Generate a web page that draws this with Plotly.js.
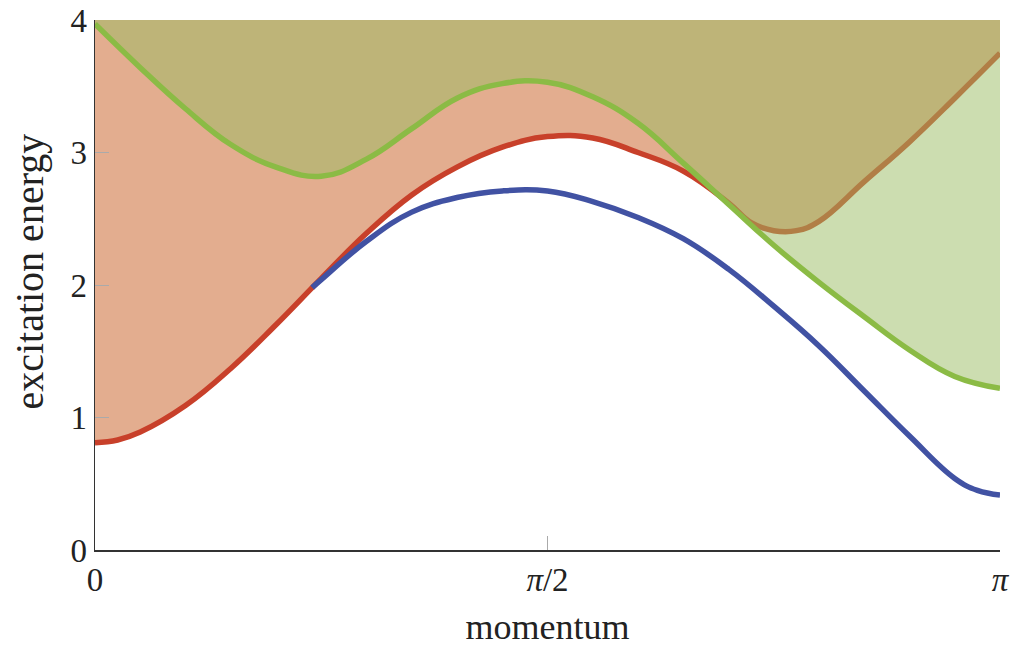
<!DOCTYPE html>
<html>
<head>
<meta charset="utf-8">
<script src="https://cdn.plot.ly/plotly-3.0.1.min.js"></script>
<style>html,body{margin:0;padding:0;background:#fff;}#chart{width:1015px;height:647px;}</style>
</head>
<body>
<div id="chart"></div>
<script>
// momentum in units of pi
const redX   = [0, 0.025, 0.05, 0.1, 0.15, 0.2, 0.25, 0.3, 0.35, 0.4, 0.45, 0.5, 0.55, 0.6, 0.65, 0.7, 0.725, 0.75, 0.775, 0.8, 0.85, 0.9, 0.95, 1.0];
const redY   = [0.81, 0.83, 0.89, 1.09, 1.37, 1.70, 2.05, 2.39, 2.68, 2.89, 3.04, 3.12, 3.11, 3.00, 2.86, 2.62, 2.47, 2.41, 2.41, 2.48, 2.78, 3.08, 3.41, 3.75];
const greenX = [0, 0.05, 0.1, 0.15, 0.2, 0.25, 0.3, 0.35, 0.4, 0.45, 0.5, 0.55, 0.6, 0.65, 0.7, 0.75, 0.8, 0.85, 0.9, 0.95, 1.0];
const greenY = [3.97, 3.64, 3.33, 3.06, 2.89, 2.82, 2.95, 3.18, 3.41, 3.52, 3.53, 3.42, 3.22, 2.92, 2.61, 2.30, 2.02, 1.76, 1.51, 1.31, 1.22];
const blueX  = [0.24, 0.25, 0.3, 0.35, 0.4, 0.45, 0.5, 0.55, 0.6, 0.65, 0.7, 0.75, 0.8, 0.85, 0.9, 0.95, 0.975, 1.0];
const blueY  = [1.98, 2.04, 2.33, 2.55, 2.66, 2.71, 2.71, 2.63, 2.51, 2.35, 2.12, 1.84, 1.54, 1.20, 0.86, 0.54, 0.45, 0.415];
const topX = [0, 1];
const topY = [4, 4];
const xTickVals = [0, 0.5, 1];
const xTickText = ['0', '<i>π</i>/2', '<i>π</i>'];
const yTickVals = [0, 1, 2, 3, 4];
const xTitle = 'momentum';
const yTitle = 'excitation energy';

const FONT = 'Liberation Serif, DejaVu Serif, serif';
const lw = 5.5;
const sm = 1.2;

const traces = [
  {x: topX, y: topY, mode: 'lines', line: {width: 0}, hoverinfo: 'skip'},
  {
    x: redX, y: redY, mode: 'lines', fill: 'tonexty', fillcolor: '#E3AD8F',
    line: {color: '#C8402A', width: lw, shape: 'spline', smoothing: sm}
  },
  {
    x: blueX, y: blueY, mode: 'lines',
    line: {color: '#4152A3', width: lw, shape: 'spline', smoothing: sm}
  },
  {x: topX, y: topY, mode: 'lines', line: {width: 0}, hoverinfo: 'skip'},
  {
    x: greenX, y: greenY, mode: 'lines', fill: 'tonexty', fillcolor: 'rgba(153,187,97,0.5)',
    line: {color: '#8BBB45', width: lw, shape: 'spline', smoothing: sm}
  }
];

const layout = {
  width: 1015, height: 647,
  margin: {l: 95, r: 15, t: 20, b: 97},
  paper_bgcolor: '#fff', plot_bgcolor: '#fff',
  showlegend: false,
  font: {family: FONT, size: 33, color: '#222'},
  xaxis: {
    range: [0, 1], tickvals: xTickVals, ticktext: xTickText,
    showgrid: false, zeroline: false,
    showline: true, linecolor: '#333', linewidth: 1.5, mirror: false,
    ticks: 'inside', ticklen: 14, tickcolor: '#aaa', tickwidth: 1,
    tickfont: {family: FONT, size: 33, color: '#222'},
    title: {text: xTitle, font: {family: FONT, size: 36, color: '#222'}, standoff: 23}
  },
  yaxis: {
    range: [0, 4], tickvals: yTickVals,
    showgrid: false, zeroline: false,
    showline: true, linecolor: '#333', linewidth: 1.5, mirror: false,
    ticks: 'inside', ticklen: 14, tickcolor: '#aaa', tickwidth: 1,
    tickfont: {family: FONT, size: 33, color: '#222'}
  },
  annotations: [{
    text: yTitle, textangle: -90, showarrow: false,
    xref: 'paper', yref: 'paper', x: -0.072, y: 0.525,
    xanchor: 'center', yanchor: 'middle',
    font: {family: FONT, size: 40, color: '#222'}
  }]
};

Plotly.newPlot('chart', traces, layout, {displayModeBar: false, staticPlot: true});
</script>
</body>
</html>
